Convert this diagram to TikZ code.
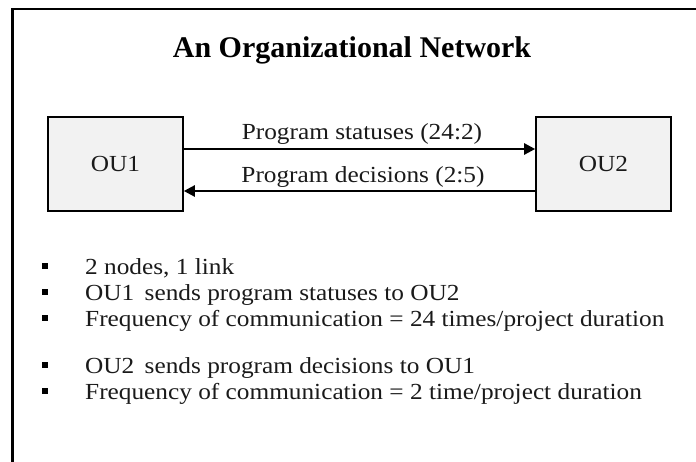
\documentclass[tikz,border=0pt]{standalone}
\usepackage{fontspec}
\setmainfont{Liberation Serif}
\newfontfamily\bodyfont[FakeStretch=1.1]{Liberation Serif}
\usetikzlibrary{arrows.meta}
\definecolor{boxgray}{HTML}{F2F2F2}
\definecolor{inkgray}{HTML}{1A1A1A}

\begin{document}
\begin{tikzpicture}[x=1pt,y=-1pt,
  bodytext/.style={font=\bodyfont\fontsize{23}{27}\selectfont, text=inkgray},
  unitbox/.style={bodytext, draw=black, line width=1.6pt, fill=boxgray,
    minimum width=135pt, minimum height=94pt, inner sep=0pt},
  flow/.style={line width=2.4pt, -{Triangle[length=11pt,width=11pt]}},
  flowlabel/.style={bodytext, anchor=base, inner sep=0pt},
  bulletmark/.style={fill=black, minimum size=6pt, inner sep=0pt},
  bullettext/.style={bodytext, anchor=base west, inner sep=0pt},
  titletext/.style={anchor=base, inner sep=0pt,
    font=\bfseries\fontsize{30}{35}\selectfont}]

\useasboundingbox (0,0) rectangle (696,461);
\fill[white] (0,0) rectangle (696,461);

% slide frame (runs off the right and bottom edges)
\draw[line width=2.2pt] (12.5,475) -- (12.5,9) -- (710,9);

% title
\node[titletext] (title) at (352,57) {An Organizational Network};

% the two organizational units
\node[unitbox] (ou1) at (115.5,164) {OU1};
\node[unitbox] (ou2) at (603.5,164) {OU2};

% links between the units
\coordinate (upper) at (0,149);
\coordinate (lower) at (0,191);
\draw[flow] (ou1.east |- upper) -- (ou2.west |- upper);
\draw[flow] (ou2.west |- lower) -- (ou1.east |- lower);
\node[flowlabel] (lab1) at (362,139) {Program statuses (24:2)};
\node[flowlabel] (lab2) at (363,182) {Program decisions (2:5)};

% bullet list
\foreach \i/\y/\txt in {
  1/274/{2 nodes, 1 link},
  2/300/{OU1\hspace{0.45em}sends program statuses to OU2},
  3/326/{Frequency of communication = 24 times/project duration},
  4/373/{OU2\hspace{0.45em}sends program decisions to OU1},
  5/399/{Frequency of communication = 2 time/project duration}}{
  \node[bulletmark] (b\i) at (44.5,\y-8) {};
  \node[bullettext] (t\i) at (85,\y) {\txt};
}
\end{tikzpicture}
\end{document}
